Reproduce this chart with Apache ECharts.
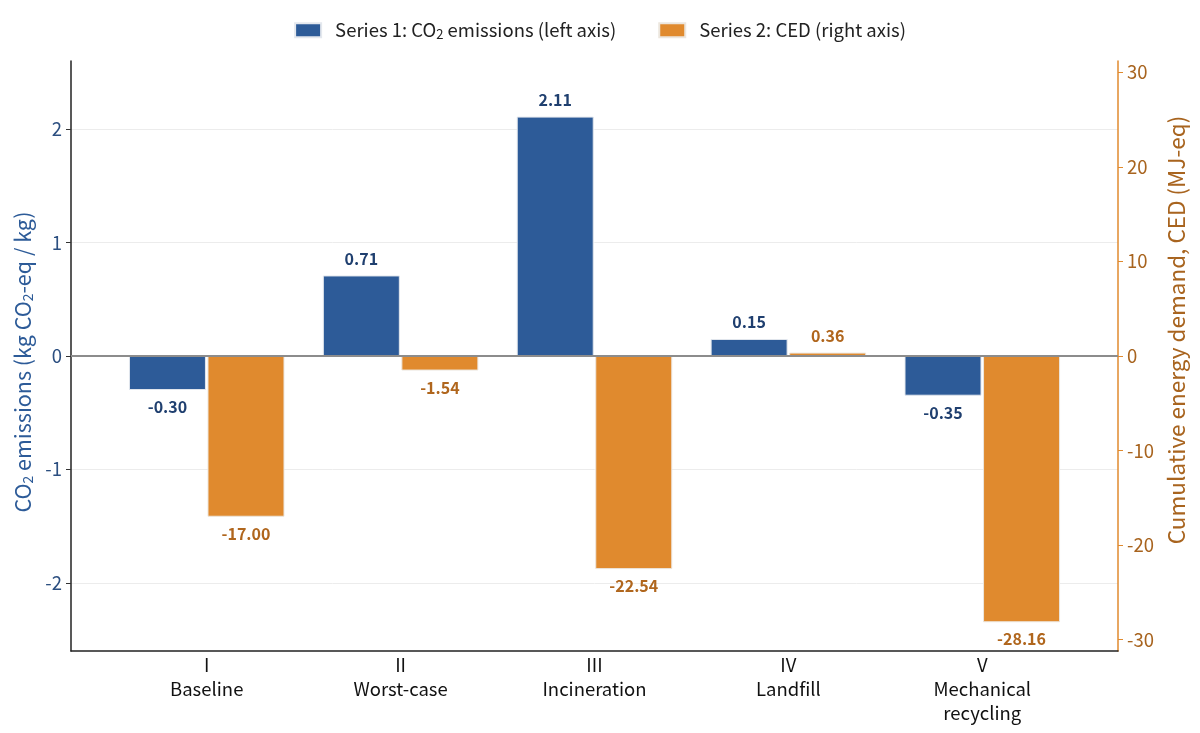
<!DOCTYPE html>
<html>
<head>
<meta charset="utf-8">
<script src="https://cdn.jsdelivr.net/npm/echarts@6/dist/echarts.min.js"></script>
<style>
html, body { margin: 0; padding: 0; background: #fff; }
#main { width: 1200px; height: 733px; }
</style>
</head>
<body>
<div id="main"></div>
<script>
// scenario labels
var romans = ['I', 'II', 'III', 'IV', 'V'];
var scenarios = ['Baseline', 'Worst-case', 'Incineration', 'Landfill', 'Mechanical\nrecycling'];
// series values
var co2 = [-0.30, 0.71, 2.11, 0.15, -0.35];
var ced = [-17.00, -1.54, -22.54, 0.36, -28.16];
// tick labels
var catTicks = [0, 1, 2, 3, 4];
var leftTicks = [-2, -1, 0, 1, 2];
var rightTicks = [-30, -20, -10, 0, 10, 20, 30];

var blue = '#2d5b98';
var orange = '#e08a2e';
var font = '"Noto Sans CJK SC", "Noto Sans", sans-serif';

function toData(vals) {
    var out = [];
    for (var i = 0; i < vals.length; i++) {
        out.push({
            value: [i, vals[i]],
            label: { position: vals[i] < 0 ? 'bottom' : 'top' }
        });
    }
    return out;
}

function fmtLabel(p) {
    return p.value[1].toFixed(2);
}

var myChart = echarts.init(document.getElementById('main'));
var option = {
    animation: false,
    textStyle: { fontFamily: font },
    legend: {
        top: 16,
        left: 'center',
        icon: 'rect',
        itemWidth: 26,
        itemHeight: 14,
        itemGap: 42,
        formatter: function(name) {
            return name.replace('CO2', 'CO{sub|2}');
        },
        textStyle: {
            fontFamily: font,
            fontSize: 18.5,
            color: '#222',
            padding: [0, 0, 0, 9],
            rich: {
                sub: { fontFamily: font, fontSize: 13, color: '#222', padding: [8, 0, 0, 0] }
            }
        }
    },
    grid: {
        left: 71,
        right: 82,
        top: 61,
        bottom: 82,
        containLabel: false,
        outerBoundsMode: 'none'
    },
    xAxis: {
        type: 'value',
        min: -0.7,
        max: 4.7,
        axisLine: { show: true, onZero: false, lineStyle: { color: '#222', width: 1.5 } },
        axisTick: { show: false },
        splitLine: { show: false },
        axisLabel: {
            customValues: catTicks,
            margin: 2,
            fontSize: 18.5,
            lineHeight: 24,
            color: '#111',
            fontFamily: font,
            formatter: function(v) {
                var i = Math.round(v);
                return romans[i] + '\n' + scenarios[i];
            }
        }
    },
    yAxis: [
        {
            type: 'value',
            position: 'left',
            min: -2.6,
            max: 2.6,
            name: 'CO{sub|2} emissions (kg CO{sub|2}-eq / kg)',
            nameLocation: 'middle',
            nameRotate: 90,
            nameGap: 35,
            nameTextStyle: {
                fontFamily: font,
                fontSize: 21.5,
                color: blue,
                padding: [0, 12, 0, 0],
                rich: {
                    sub: { fontFamily: font, fontSize: 14, color: blue, padding: [9, 0, 0, 0] }
                }
            },
            axisLine: { show: true, onZero: false, lineStyle: { color: '#222', width: 1.5 } },
            axisTick: { show: true, length: 5, customValues: leftTicks, lineStyle: { color: '#333' } },
            axisLabel: { customValues: leftTicks, fontSize: 18.5, color: '#2c4f80', margin: 9, fontFamily: font },
            splitLine: { show: true, lineStyle: { color: '#ececec', width: 1 } }
        },
        {
            type: 'value',
            position: 'right',
            min: -31.2,
            max: 31.2,
            name: 'Cumulative energy demand, CED (MJ-eq)',
            nameLocation: 'middle',
            nameRotate: 90,
            nameGap: 46,
            nameTextStyle: { fontFamily: font, fontSize: 22.5, color: '#a8641f', padding: [0, 0, 0, 52] },
            axisLine: { show: true, onZero: false, lineStyle: { color: orange, width: 1.5 } },
            axisTick: { show: true, length: 5, customValues: rightTicks, lineStyle: { color: orange } },
            axisLabel: { customValues: rightTicks, fontSize: 18.5, color: '#a8641f', margin: 9, fontFamily: font },
            splitLine: { show: false }
        }
    ],
    series: [
        {
            name: 'Series 1: CO2 emissions (left axis)',
            type: 'bar',
            yAxisIndex: 0,
            barWidth: 77,
            barGap: '2%',
            itemStyle: { color: blue, borderColor: '#e4e8ee', borderWidth: 1 },
            label: {
                show: true,
                distance: 9,
                fontSize: 16,
                fontWeight: 'bold',
                color: '#1f3f6f',
                fontFamily: font,
                formatter: fmtLabel
            },
            markLine: {
                silent: true,
                symbol: 'none',
                label: { show: false },
                lineStyle: { color: '#8c8c8c', width: 2, type: 'solid' },
                data: [{ yAxis: 0 }]
            },
            data: toData(co2)
        },
        {
            name: 'Series 2: CED (right axis)',
            type: 'bar',
            yAxisIndex: 1,
            barWidth: 77,
            barGap: '2%',
            itemStyle: { color: orange, borderColor: '#ece6de', borderWidth: 1 },
            label: {
                show: true,
                distance: 9,
                fontSize: 16,
                fontWeight: 'bold',
                color: '#b0661d',
                fontFamily: font,
                formatter: fmtLabel
            },
            data: toData(ced)
        }
    ]
};
myChart.setOption(option);
</script>
</body>
</html>
